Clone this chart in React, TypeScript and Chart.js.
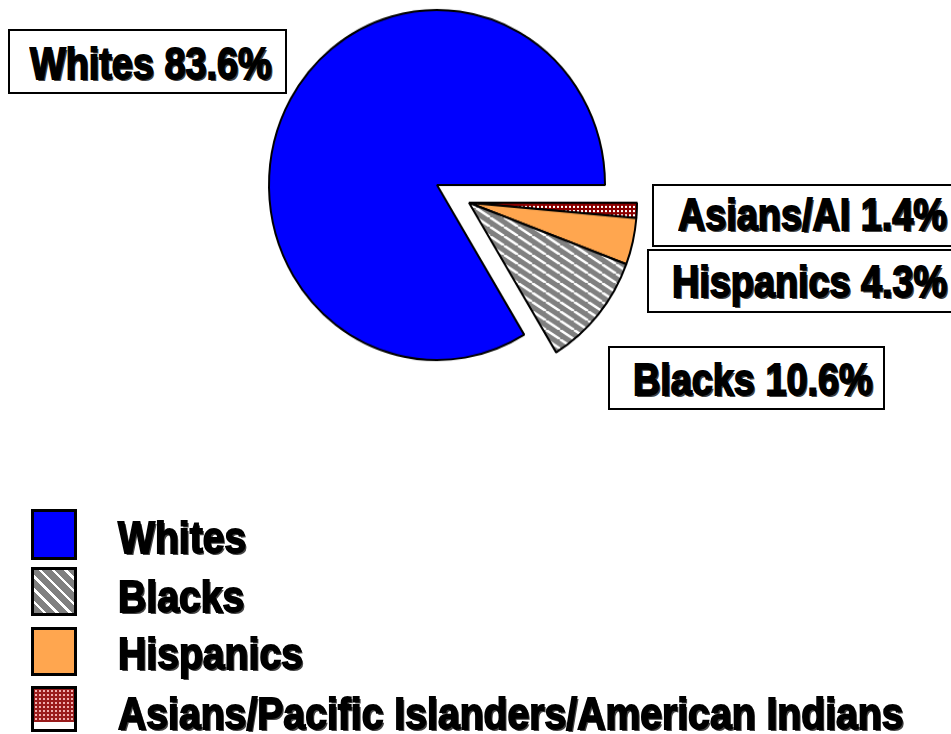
import React, { useEffect, useRef } from "react";
import { Chart, registerables } from "chart.js";

Chart.register(...registerables);

// Data (pie order, clockwise from 3 o'clock)
const categories = ["Asians/AI", "Hispanics", "Blacks", "Whites"];
const values = [1.4, 4.3, 10.6, 83.6];
const explodedIdx = [0, 1, 2];

// Legend entries (display order)
const legendLabels = [
  "Whites",
  "Blacks",
  "Hispanics",
  "Asians/Pacific Islanders/American Indians",
];

const BLUE = "#0000FF";
const ORANGE = "#FFA64F";
const GRAY = "#808080";
const MAROON = "#8B0000";

function makeStripes(): CanvasPattern | string {
  const W = 14;
  const H = 9;
  const c = document.createElement("canvas");
  c.width = W;
  c.height = H;
  const g = c.getContext("2d");
  if (!g) return GRAY;
  g.fillStyle = GRAY;
  g.fillRect(0, 0, W, H);
  g.strokeStyle = "#ffffff";
  g.lineWidth = 2.4;
  for (const dx of [-W, 0, W]) {
    g.beginPath();
    g.moveTo(dx, 0);
    g.lineTo(dx + W, H);
    g.stroke();
  }
  return g.createPattern(c, "repeat") || GRAY;
}

function makeDots(): CanvasPattern | string {
  const c = document.createElement("canvas");
  c.width = 4;
  c.height = 4;
  const g = c.getContext("2d");
  if (!g) return MAROON;
  g.fillStyle = MAROON;
  g.fillRect(0, 0, 4, 4);
  g.fillStyle = "#ffffff";
  g.fillRect(1, 1, 2, 2);
  return g.createPattern(c, "repeat") || MAROON;
}

const textStyle: React.CSSProperties = {
  position: "absolute",
  font: 'bold 45px "Liberation Sans", Arial, sans-serif',
  lineHeight: "45px",
  whiteSpace: "nowrap",
  transformOrigin: "0 0",
  WebkitTextStroke: "1.8px #000",
  textShadow: "2px 2px 0 #444",
  color: "#000",
};

function Label({
  x,
  y,
  text,
  sx = 0.84,
}: {
  x: number;
  y: number;
  text: string;
  sx?: number;
}) {
  return (
    <div style={{ ...textStyle, left: x, top: y, transform: `scaleX(${sx})` }}>
      {text}
    </div>
  );
}

function Box({ x, y, w, h }: { x: number; y: number; w: number; h: number }) {
  return (
    <div
      style={{
        position: "absolute",
        left: x,
        top: y,
        width: w,
        height: h,
        boxSizing: "border-box",
        border: "2px solid #000",
        background: "#fff",
      }}
    />
  );
}

const swatchStyles: React.CSSProperties[] = [
  { background: BLUE },
  {
    background: `repeating-linear-gradient(45deg, ${GRAY} 0px, ${GRAY} 6.5px, #fff 6.5px, #fff 9px)`,
  },
  { background: ORANGE },
  {
    backgroundColor: "#9a1c1c",
    backgroundImage:
      "linear-gradient(to bottom, transparent 0, transparent 33px, #fff 33px), radial-gradient(circle, rgba(255,200,200,0.85) 1px, transparent 1.4px)",
    backgroundSize: "100% 100%, 4px 4px",
    backgroundRepeat: "no-repeat, repeat",
  },
];

export default function App() {
  const ref = useRef<HTMLCanvasElement>(null);

  useEffect(() => {
    const canvas = ref.current;
    if (!canvas) return;
    const fills = [makeDots(), ORANGE, makeStripes(), BLUE];
    const explodePlugin = {
      id: "groupExplode",
      beforeDatasetsDraw(chart: any) {
        const { left, right, top, bottom } = chart.chartArea;
        const cx = (left + right) / 2;
        const cy = (top + bottom) / 2;
        chart.getDatasetMeta(0).data.forEach((el: any, i: number) => {
          if (explodedIdx.includes(i)) {
            el.x = cx + 32;
            el.y = cy + 17;
          } else {
            el.x = cx;
            el.y = cy;
          }
        });
      },
    };
    const chart = new Chart(canvas, {
      type: "pie",
      data: {
        labels: categories,
        datasets: [
          {
            data: values,
            backgroundColor: fills as any,
            borderColor: "#000",
            borderWidth: 2,
            radius: 168,
          } as any,
        ],
      },
      options: {
        responsive: false,
        animation: false,
        rotation: 90,
        layout: { padding: { left: 266, right: 343, top: 14, bottom: 378 } },
        plugins: { legend: { display: false }, tooltip: { enabled: false } },
      },
      plugins: [explodePlugin],
    });
    return () => chart.destroy();
  }, []);

  const lbl = (i: number) => `${categories[i]} ${values[i]}%`;

  const swatchBoxes = [
    { top: 509, h: 51 },
    { top: 567, h: 49 },
    { top: 627, h: 49 },
    { top: 686, h: 46 },
  ];
  const legendTextTops = [515, 574, 631, 691];

  return (
    <div
      style={{
        position: "absolute",
        left: 0,
        top: 0,
        width: 951,
        height: 734,
        overflow: "hidden",
        background: "#fff",
      }}
    >
      <canvas
        ref={ref}
        width={951}
        height={734}
        style={{
          position: "absolute",
          left: 0,
          top: 0,
          width: 951,
          height: 734,
          transform: "scaleY(1.042)",
          transformOrigin: "0px 185px",
        }}
      />
      <Box x={8} y={29} w={279} h={65} />
      <Label x={30} y={41} text={lbl(3)} />
      <Box x={652} y={184} w={320} h={63} />
      <Label x={678} y={192} text={lbl(0)} />
      <Box x={647} y={249} w={320} h={64} />
      <Label x={672} y={259} text={lbl(1)} />
      <Box x={608} y={346} w={277} h={64} />
      <Label x={633} y={357} text={lbl(2)} />

      {legendLabels.map((t, i) => (
        <React.Fragment key={t}>
          <div
            style={{
              position: "absolute",
              left: 31,
              top: swatchBoxes[i].top,
              width: 46,
              height: swatchBoxes[i].h,
              boxSizing: "border-box",
              border: "3px solid #000",
              ...swatchStyles[i],
            }}
          />
          <Label x={118} y={legendTextTops[i]} text={t} sx={0.87} />
        </React.Fragment>
      ))}
    </div>
  );
}
